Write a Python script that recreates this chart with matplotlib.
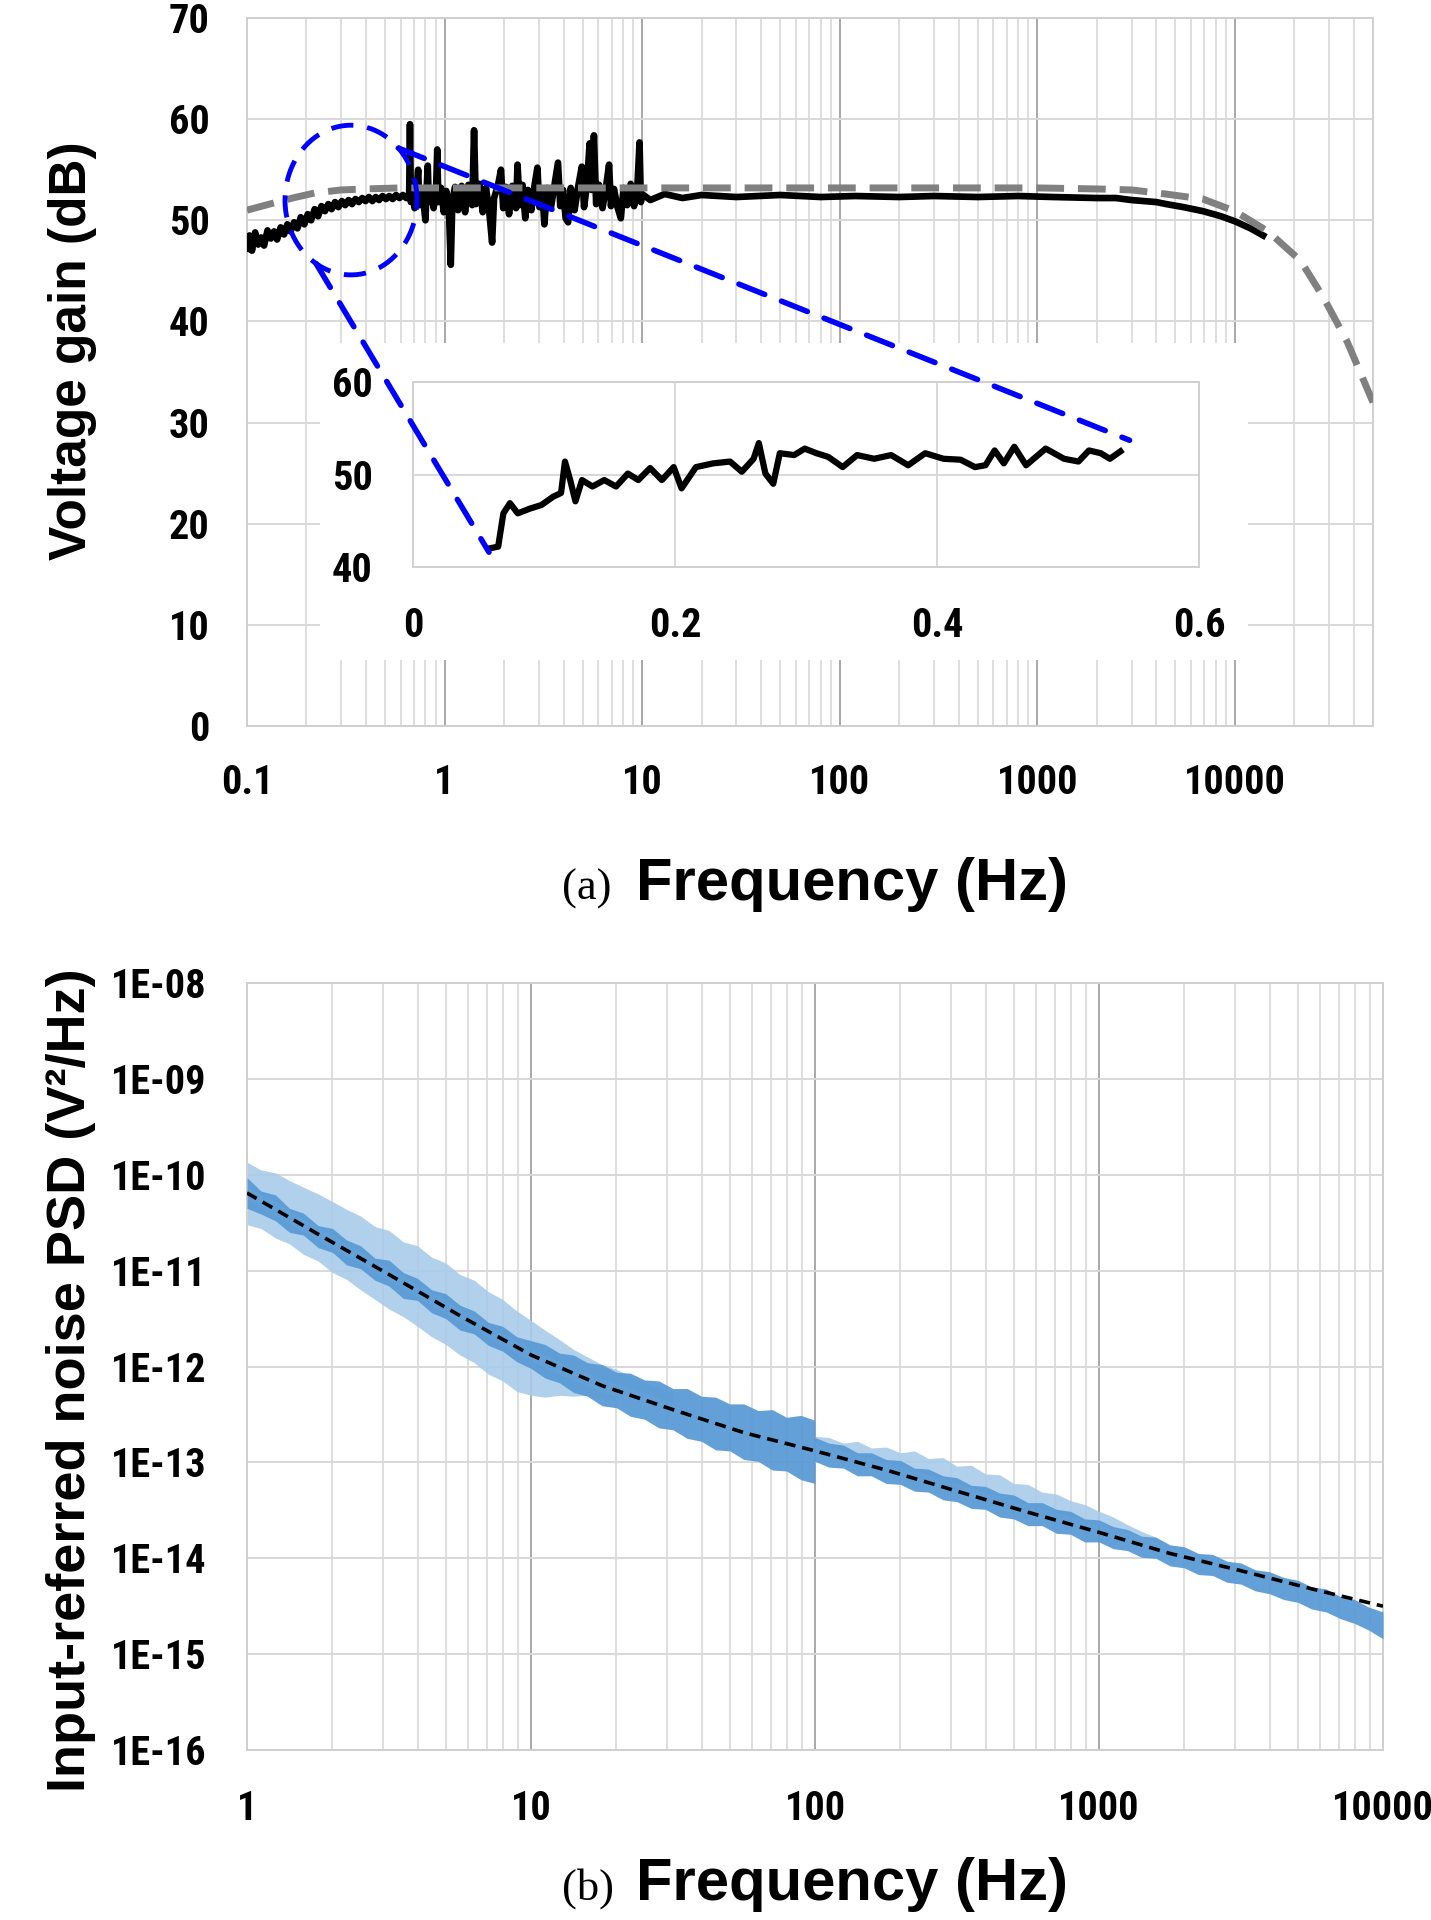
import numpy as np
import matplotlib
matplotlib.use('Agg')
import matplotlib.pyplot as plt
from matplotlib import font_manager
from matplotlib.patches import Rectangle, ConnectionPatch
from matplotlib.ticker import LogLocator, NullFormatter, NullLocator

# ---------------- data: (a) voltage gain ----------------
meas_freq = [0.100, 0.103, 0.106, 0.110, 0.114, 0.118, 0.122, 0.127, 0.132, 0.137,
             0.142, 0.148, 0.154, 0.160, 0.166, 0.173, 0.180, 0.187, 0.195, 0.203,
             0.211, 0.220, 0.229, 0.238, 0.248, 0.258, 0.268, 0.279, 0.290, 0.302,
             0.314, 0.327, 0.340, 0.354, 0.368, 0.383, 0.398, 0.414, 0.431, 0.448,
             0.466, 0.485, 0.505, 0.525, 0.546, 0.568, 0.591, 0.615, 0.640,
             0.662, 0.668, 0.675, 0.69, 0.705, 0.72, 0.735, 0.745, 0.76, 0.79,
             0.80, 0.81, 0.822, 0.832, 0.86, 0.88, 0.905, 0.918, 0.93, 0.96,
             0.99, 1.02, 1.05, 1.075, 1.095, 1.13, 1.17, 1.22, 1.27, 1.32,
             1.38, 1.41, 1.44, 1.50, 1.56, 1.62, 1.68, 1.74, 1.78, 1.86,
             1.93, 1.98, 2.05, 2.12, 2.20, 2.30, 2.34, 2.40, 2.48, 2.56,
             2.64, 2.75, 2.85, 2.95, 3.02, 3.12, 3.20, 3.30, 3.45, 3.60,
             3.75, 3.85, 3.98, 4.10, 4.22, 4.35, 4.55, 4.75, 4.95, 5.08,
             5.25, 5.42, 5.55, 5.70, 5.85, 6.05, 6.30, 6.55, 6.80, 6.95,
             7.20, 7.50, 7.80, 8.05, 8.40, 8.75, 9.10, 9.45, 9.70, 9.85,
             10.0, 11, 13, 16, 20, 30, 50, 80,
             120, 200, 300, 500, 800, 1200, 2000, 2500, 3000, 4000,
             4500, 5500, 6900, 8500, 10000, 12000, 13900]
meas_db = [47.2, 48.5, 47.0, 48.8, 47.6, 48.3, 47.5, 49.0, 48.2, 48.9,
           48.1, 49.3, 48.6, 49.6, 48.9, 49.8, 49.2, 50.3, 49.6, 50.6,
           50.0, 51.1, 50.4, 51.4, 50.9, 51.6, 51.1, 51.8, 51.3, 51.9,
           51.5, 52.0, 51.6, 52.1, 51.8, 52.2, 51.9, 52.3, 51.9, 52.3,
           52.0, 52.4, 52.1, 52.4, 52.1, 52.5, 52.2, 52.5, 52.2,
           52.6, 59.5, 51.8, 53.0, 51.2, 52.8, 55.0, 51.5, 53.1, 51.0,
           50.0, 52.8, 55.4, 51.8, 53.0, 51.2, 52.8, 57.0, 51.8, 53.2,
           50.8, 52.9, 51.4, 45.6, 52.0, 53.3, 51.0, 53.4, 50.8, 53.5,
           51.5, 58.9, 51.6, 53.6, 50.8, 53.2, 51.0, 47.8, 52.2, 53.4,
           55.0, 51.2, 53.3, 50.6, 53.4, 51.2, 55.5, 51.5, 53.5, 50.2,
           53.0, 51.0, 53.4, 55.2, 51.3, 52.9, 49.6, 53.2, 51.2, 53.5,
           55.7, 51.4, 53.0, 50.2, 49.8, 53.2, 51.0, 53.4, 55.3, 51.3,
           53.4, 57.6, 53.0, 58.4, 51.6, 53.5, 51.2, 53.2, 55.5, 51.4,
           53.1, 51.3, 50.2, 53.2, 51.5, 53.6, 51.4, 53.2, 57.7, 51.8,
           52.6, 52.0, 52.6, 52.2, 52.5, 52.3, 52.5, 52.3,
           52.4, 52.3, 52.4, 52.3, 52.4, 52.3, 52.2, 52.2, 52.0, 51.8,
           51.6, 51.3, 50.9, 50.4, 49.9, 49.2, 48.5]

sim_freq = [0.1, 0.13, 0.17, 0.22, 0.3, 0.4, 0.6, 1, 3, 10, 100, 1000,
            2000, 3000, 4450, 6890, 10000, 14700, 21500, 28200, 37000, 50000]
sim_db = [51.0, 51.6, 52.2, 52.7, 53.0, 53.1, 53.2, 53.2, 53.2, 53.2, 53.2, 53.2,
          53.1, 53.0, 52.6, 52.1, 50.9, 48.9, 46.0, 42.3, 38.0, 32.0]

inset_x = [0.058, 0.065, 0.069, 0.074, 0.080, 0.089, 0.098, 0.107, 0.113, 0.116,
           0.120, 0.124, 0.129, 0.137, 0.146, 0.155, 0.164, 0.172, 0.181, 0.190,
           0.199, 0.205, 0.216, 0.229, 0.242, 0.251, 0.260, 0.264, 0.269, 0.275,
           0.280, 0.291, 0.299, 0.308, 0.317, 0.328, 0.339, 0.352, 0.365, 0.378,
           0.391, 0.405, 0.418, 0.429, 0.437, 0.444, 0.451, 0.459, 0.468, 0.483,
           0.497, 0.508, 0.516, 0.525, 0.532, 0.540]
inset_y = [42.0, 42.2, 45.8, 46.9, 45.8, 46.3, 46.7, 47.6, 48.0, 51.4,
           49.4, 47.1, 49.4, 48.7, 49.4, 48.7, 50.1, 49.4, 50.7, 49.4,
           50.8, 48.5, 50.8, 51.2, 51.4, 50.3, 51.7, 53.4, 50.1, 49.0,
           52.3, 52.1, 52.8, 52.3, 51.9, 50.8, 52.1, 51.7, 52.1, 51.0,
           52.3, 51.7, 51.6, 50.8, 51.0, 52.6, 51.2, 53.0, 51.0, 52.8,
           51.7, 51.4, 52.6, 52.3, 51.7, 52.5]

# ---------------- data: (b) noise PSD (log10 of V^2/Hz) ----------------
band_freq = [1.00, 1.12, 1.26, 1.41, 1.58, 1.78, 2.00, 2.24, 2.51, 2.82,
             3.16, 3.55, 3.98, 4.47, 5.01, 5.62, 6.31, 7.08, 7.94, 8.91,
             10.0, 11.2, 12.6, 14.1, 15.8, 17.8, 20.0, 22.4, 25.1, 28.2,
             31.6, 35.5, 39.8, 44.7, 50.1, 56.2, 63.1, 70.8, 79.4, 89.1,
             99.9, 100, 112, 126, 141, 158, 178, 200, 224, 251, 282,
             316, 355, 398, 447, 501, 562, 631, 708, 794, 891,
             1000, 1122, 1259, 1413, 1585, 1778, 1995, 2239, 2512, 2818,
             3162, 3548, 3981, 4467, 5012, 5623, 6310, 7079, 7943, 8913, 10000]
band_hi = [-10.03, -10.17, -10.21, -10.35, -10.40, -10.53, -10.56, -10.68, -10.74, -10.87,
           -10.89, -11.02, -11.08, -11.20, -11.24, -11.36, -11.42, -11.54, -11.58, -11.69,
           -11.73, -11.77, -11.86, -11.88, -11.96, -11.98, -12.06, -12.07, -12.14, -12.15,
           -12.23, -12.23, -12.31, -12.32, -12.39, -12.39, -12.46, -12.45, -12.53, -12.51,
           -12.56, -12.74, -12.80, -12.82, -12.90, -12.90, -12.97, -12.98, -13.06, -13.07, -13.14,
           -13.16, -13.24, -13.25, -13.32, -13.34, -13.42, -13.42, -13.49, -13.51, -13.59,
           -13.60, -13.67, -13.70, -13.77, -13.78, -13.86, -13.88, -13.95, -13.96, -14.03,
           -14.05, -14.12, -14.14, -14.20, -14.23, -14.30, -14.32, -14.40, -14.43, -14.51, -14.56]
band_lo = [-10.35, -10.41, -10.48, -10.60, -10.63, -10.76, -10.81, -10.94, -10.98, -11.10,
           -11.16, -11.29, -11.31, -11.44, -11.50, -11.62, -11.66, -11.78, -11.84, -11.95,
           -12.02, -12.12, -12.17, -12.27, -12.31, -12.41, -12.43, -12.52, -12.55, -12.64,
           -12.66, -12.75, -12.78, -12.87, -12.88, -12.97, -12.99, -13.08, -13.09, -13.18,
           -13.22, -12.99, -13.05, -13.06, -13.14, -13.14, -13.22, -13.23, -13.30, -13.31, -13.39,
           -13.41, -13.48, -13.49, -13.57, -13.59, -13.66, -13.66, -13.74, -13.75, -13.83,
           -13.83, -13.90, -13.92, -13.99, -14.00, -14.08, -14.10, -14.17, -14.18, -14.25,
           -14.27, -14.34, -14.37, -14.43, -14.46, -14.53, -14.56, -14.63, -14.68, -14.75, -14.84]

up_freq = [1.00, 1.12, 1.26, 1.41, 1.58, 1.78, 2.00, 2.24, 2.51, 2.82,
           3.16, 3.55, 3.98, 4.47, 5.01, 5.62, 6.31, 7.08, 7.94, 8.91,
           10.0, 11.2, 12.6, 14.1, 15.8, 17.8, 20.0, 22.4, 25.1, 28.2, 31.6]
up_hi = [-9.87, -9.95, -9.98, -10.06, -10.13, -10.20, -10.28, -10.36, -10.43, -10.54,
         -10.58, -10.70, -10.74, -10.86, -10.92, -11.04, -11.10, -11.22, -11.30, -11.42,
         -11.52, -11.62, -11.72, -11.82, -11.90, -11.98, -12.03, -12.10, -12.17, -12.22, -12.28]
up_lo = [-10.12, -10.20, -10.28, -10.38, -10.46, -10.55, -10.63, -10.72, -10.80, -10.89,
         -10.97, -11.06, -11.14, -11.23, -11.31, -11.40, -11.48, -11.57, -11.65, -11.73,
         -11.81, -11.88, -11.95, -12.01, -12.07, -12.13, -12.18, -12.23, -12.28, -12.33, -12.38]

dn_freq = [1.00, 1.12, 1.26, 1.41, 1.58, 1.78, 2.00, 2.24, 2.51, 2.82,
           3.16, 3.55, 3.98, 4.47, 5.01, 5.62, 6.31, 7.08, 7.94, 8.91,
           10.0, 11.2, 12.6, 14.1, 15.8, 17.8, 20.0]
dn_hi = [-10.25, -10.34, -10.42, -10.51, -10.59, -10.68, -10.76, -10.85, -10.93, -11.02,
         -11.10, -11.19, -11.27, -11.36, -11.44, -11.53, -11.61, -11.70, -11.78, -11.86,
         -11.94, -12.01, -12.08, -12.14, -12.20, -12.26, -12.31]
dn_lo = [-10.52, -10.56, -10.66, -10.72, -10.83, -10.90, -11.02, -11.09, -11.20, -11.30,
         -11.40, -11.48, -11.58, -11.69, -11.77, -11.88, -11.96, -12.08, -12.15, -12.26,
         -12.30, -12.32, -12.30, -12.31, -12.30, -12.34, -12.36]

mid_freq = [100, 112, 126, 141, 158, 178, 200, 224, 251, 282, 316, 355, 398, 447,
            501, 562, 631, 708, 794, 891, 1000, 1122, 1259, 1413, 1585]
mid_hi = [-12.73, -12.74, -12.80, -12.78, -12.85, -12.84, -12.90, -12.88, -12.96, -12.95,
          -13.04, -13.03, -13.12, -13.13, -13.22, -13.23, -13.31, -13.33, -13.40, -13.44,
          -13.51, -13.57, -13.65, -13.72, -13.78]
mid_lo = [-12.80, -12.84, -12.88, -12.92, -12.96, -13.00, -13.04, -13.08, -13.13, -13.17,
          -13.22, -13.26, -13.31, -13.35, -13.40, -13.44, -13.48, -13.52, -13.56, -13.61,
          -13.65, -13.69, -13.74, -13.78, -13.82]

model_freq = [1, 1.78, 3.16, 5.62, 10, 17.8, 31.6, 56.2, 100, 178, 316, 562,
              1000, 1778, 3162, 5623, 10000]
model_log = [-10.19, -10.62, -11.04, -11.47, -11.88, -12.20, -12.45, -12.69, -12.88,
             -13.08, -13.30, -13.52, -13.73, -13.95, -14.13, -14.32, -14.50]

gain_ticks = [0.1, 1, 10, 100, 1000, 10000]
gain_ticklabels = ['0.1', '1', '10', '100', '1000', '10000']
psd_xticks = [1, 10, 100, 1000, 10000]
psd_xticklabels = ['1', '10', '100', '1000', '10000']
psd_exps = [-16, -15, -14, -13, -12, -11, -10, -9, -8]

# ---------------- fonts ----------------
installed = {f.name for f in font_manager.fontManager.ttflist}
narrow = next((n for n in ['Liberation Sans Narrow', 'Roboto Condensed',
                           'DejaVu Sans Condensed', 'Open Sans Condensed']
               if n in installed), 'Liberation Sans')
plt.rcParams['font.family'] = [narrow, 'Liberation Sans', 'DejaVu Sans']
plt.rcParams['font.weight'] = 'bold'
plt.rcParams['lines.scale_dashes'] = False
TITLE = ['Liberation Sans', 'DejaVu Sans']
TICK = 29

W, H = 1431, 1920


def box(l, t, r, b):
    return [l / W, 1 - b / H, (r - l) / W, (b - t) / H]


def style(ax):
    ax.grid(which='major', axis='x', color='#a8a8a8', lw=1.4)
    ax.grid(which='minor', axis='x', color='#d8d8d8', lw=1.2)
    ax.grid(which='major', axis='y', color='#d8d8d8', lw=1.4)
    ax.set_axisbelow(True)
    ax.tick_params(which='both', length=0, labelsize=TICK, pad=27)
    for s in ax.spines.values():
        s.set_color('#d0d0d0')
        s.set_linewidth(1.4)


fig = plt.figure(figsize=(W / 100, H / 100), dpi=100)

# ---------------- (a) ----------------
ax = fig.add_axes(box(247, 18, 1373, 726))
ax.set_xscale('log')
ax.set_xlim(0.1, 50000)
ax.set_ylim(0, 70)
ax.set_yticks(range(0, 80, 10))
ax.set_xticks(gain_ticks)
ax.set_xticklabels(gain_ticklabels)
ax.xaxis.set_minor_locator(LogLocator(base=10, subs=range(2, 10), numticks=20))
ax.xaxis.set_minor_formatter(NullFormatter())
style(ax)

ax.plot(meas_freq, meas_db, color='black', lw=4.8, zorder=3)
ax.plot(sim_freq, sim_db, color='#808080', lw=5, dashes=(20, 10), zorder=4)

# blue dashed ellipse around the low-frequency part
e_f, e_db, e_dec, e_h = 0.336, 52.0, 0.334, 7.4
th = np.linspace(0, 2 * np.pi, 200)
ax.plot(e_f * 10 ** (e_dec * np.cos(th)), e_db + e_h * np.sin(th),
        color='#0000ff', lw=3.5, dashes=(16, 10), zorder=5)

# white area behind the inset
fig.patches.append(Rectangle((320 / W, 1 - 660 / H), 928 / W, 317 / H,
                             transform=fig.transFigure, facecolor='white',
                             edgecolor='none', zorder=0.5))

ins = fig.add_axes(box(413, 382, 1199, 567))
ins.set_zorder(2)
ins.set_xlim(0, 0.6)
ins.set_ylim(40, 60)
ins.set_xticks([0, 0.2, 0.4, 0.6])
ins.set_xticklabels(['0', '0.2', '0.4', '0.6'])
ins.set_yticks([40, 50, 60])
ins.grid(color='#d8d8d8', lw=1.4)
ins.set_axisbelow(True)
ins.tick_params(length=0, labelsize=TICK, pad=29)
for s in ins.spines.values():
    s.set_color('#d0d0d0')
    s.set_linewidth(1.4)
ins.plot(inset_x, inset_y, color='black', lw=4.5)

for ang, target in [(238, (inset_x[0], inset_y[0] - 0.4)), (44, (0.547, 53.7))]:
    a = np.deg2rad(ang)
    start = (e_f * 10 ** (e_dec * np.cos(a)), e_db + e_h * np.sin(a))
    con = ConnectionPatch(xyA=start, coordsA=ax.transData, xyB=target,
                          coordsB=ins.transData, color='#0000ff', lw=4,
                          linestyle=(0, (20, 13)), zorder=6)
    fig.add_artist(con)

fig.text(73 / W, 1 - 351 / H, 'Voltage gain (dB)', rotation=90, ha='center',
         va='center', fontsize=37, fontweight='bold', family=TITLE)
fig.text(562 / W, 1 - 900 / H, '(a)', ha='left', va='baseline', fontsize=32,
         fontweight='normal', family=['Liberation Serif', 'DejaVu Serif'])
fig.text(636 / W, 1 - 900 / H, 'Frequency (Hz)', ha='left', va='baseline',
         fontsize=43, fontweight='bold', family=TITLE)

# ---------------- (b) ----------------
bx = fig.add_axes(box(247, 983, 1383, 1750))
bx.set_xscale('log')
bx.set_yscale('log')
bx.set_xlim(1, 10000)
bx.set_ylim(1e-16, 1e-8)
bx.set_xticks(psd_xticks)
bx.set_xticklabels(psd_xticklabels)
bx.xaxis.set_minor_locator(LogLocator(base=10, subs=range(2, 10), numticks=20))
bx.xaxis.set_minor_formatter(NullFormatter())
bx.set_yticks([10.0 ** e for e in psd_exps])
bx.set_yticklabels(['1E-%02d' % -e for e in psd_exps])
bx.yaxis.set_minor_locator(NullLocator())
style(bx)
bx.tick_params(axis='both', pad=29)

light = '#a9cbea'
dark = '#5b9bd5'
bx.fill_between(up_freq, 10.0 ** np.array(up_lo), 10.0 ** np.array(up_hi),
                color=light, lw=0, alpha=0.9, zorder=2)
bx.fill_between(dn_freq, 10.0 ** np.array(dn_lo), 10.0 ** np.array(dn_hi),
                color=light, lw=0, alpha=0.9, zorder=2)
bx.fill_between(mid_freq, 10.0 ** np.array(mid_lo), 10.0 ** np.array(mid_hi),
                color=light, lw=0, alpha=0.9, zorder=2)
bx.fill_between(band_freq, 10.0 ** np.array(band_lo), 10.0 ** np.array(band_hi),
                color=dark, lw=0, alpha=0.95, zorder=3)
bx.plot(model_freq, 10.0 ** np.array(model_log), color='black', lw=2.6,
        dashes=(8, 5), zorder=4)

fig.text(71 / W, 1 - 1380 / H, 'Input-referred noise PSD (V\u00b2/Hz)', rotation=90,
         ha='center', va='center', fontsize=39, fontweight='bold', family=TITLE)
fig.text(562 / W, 1 - 1900 / H, '(b)', ha='left', va='baseline', fontsize=32,
         fontweight='normal', family=['Liberation Serif', 'DejaVu Serif'])
fig.text(636 / W, 1 - 1900 / H, 'Frequency (Hz)', ha='left', va='baseline',
         fontsize=43, fontweight='bold', family=TITLE)

fig.savefig('out.png', dpi=100, facecolor='white')
